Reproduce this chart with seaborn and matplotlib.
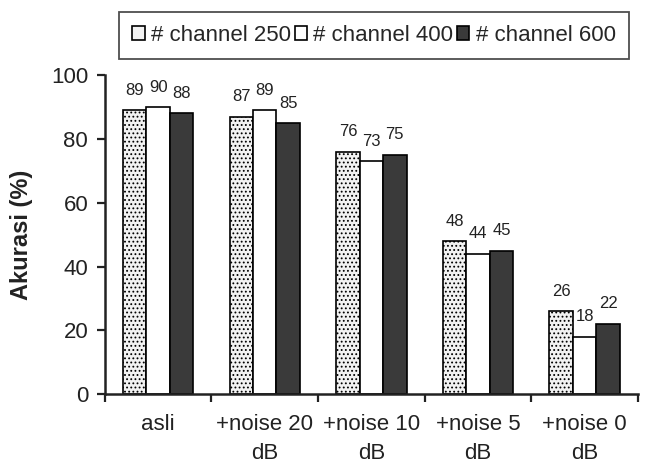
import matplotlib
matplotlib.use("Agg")
import matplotlib.pyplot as plt
import seaborn as sns
import pandas as pd

# Accuracy per noise condition for three channel counts
conditions = ["asli", "+noise 20\ndB", "+noise 10\ndB", "+noise 5\ndB", "+noise 0\ndB"]
series_names = ["# channel 250", "# channel 400", "# channel 600"]
ch250 = [89, 87, 76, 48, 26]
ch400 = [90, 89, 73, 44, 18]
ch600 = [88, 85, 75, 45, 22]

rows = []
for name, vals in zip(series_names, [ch250, ch400, ch600]):
    for cond, v in zip(conditions, vals):
        rows.append({"Kondisi": cond, "Seri": name, "Akurasi": v})
df = pd.DataFrame(rows)

sns.set_theme(style="white")
plt.rcParams["font.family"] = ["Liberation Sans", "DejaVu Sans"]
plt.rcParams["hatch.color"] = "#555555"
plt.rcParams["hatch.linewidth"] = 0.8

fig = plt.figure(figsize=(6.47, 4.67), dpi=100, facecolor="white")
ax = fig.add_axes([0.162, 0.156, 0.824, 0.683])

fills = ["#f2f2f2", "white", "#3a3a3a"]
hatches = ["....", None, None]

sns.barplot(data=df, x="Kondisi", y="Akurasi", hue="Seri", order=conditions,
            hue_order=series_names, width=0.66, gap=0, ax=ax,
            palette=fills, saturation=1, edgecolor="black", linewidth=1.2)

for cont, fc, h in zip(ax.containers, fills, hatches):
    for bar in cont:
        bar.set_facecolor(fc)
        if h:
            bar.set_hatch(h)
        bar.set_edgecolor("black")
    ax.bar_label(cont, fmt="%d", padding=9, fontsize=12, color="#222222")

ax.set_ylim(0, 100)
ax.set_xlim(-0.5, 4.5)
ax.set_yticks([0, 20, 40, 60, 80, 100])
ax.tick_params(axis="y", labelsize=16, length=6, width=1.6, direction="out",
               left=True, colors="#222222", pad=6)
# category boundaries as ticks, labels in the middle
ax.set_xticks([-0.5, 0.5, 1.5, 2.5, 3.5, 4.5])
ax.set_xticklabels([])
ax.set_xticks(range(5), minor=True)
ax.set_xticklabels(conditions, minor=True, fontsize=16, color="#222222",
                   linespacing=1.55)
ax.tick_params(axis="x", which="major", length=6, width=1.6, direction="out",
               bottom=True, colors="#222222")
ax.tick_params(axis="x", which="minor", length=0, pad=14)

ax.set_xlabel("")
ax.set_ylabel("Akurasi (%)", fontsize=17, fontweight="bold", color="#222222",
              labelpad=13)

for side in ["top", "right"]:
    ax.spines[side].set_visible(False)
for side in ["left", "bottom"]:
    ax.spines[side].set_linewidth(1.8)
    ax.spines[side].set_color("#222222")

handles, labels = ax.get_legend_handles_labels()
if ax.legend_:
    ax.legend_.remove()
leg = fig.legend(handles, labels, loc="center", bbox_to_anchor=(0.578, 0.924),
                 ncol=3, frameon=True, fancybox=False, edgecolor="#222222",
                 fontsize=16, handlelength=0.55, handleheight=0.55,
                 handletextpad=0.3, columnspacing=0.15, borderpad=0.6,
                 borderaxespad=0)
leg.get_frame().set_linewidth(1.3)

fig.savefig("out.png", dpi=100, facecolor="white")
